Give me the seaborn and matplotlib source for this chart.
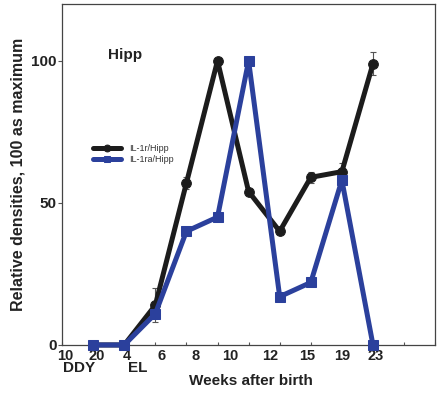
import numpy as np
import pandas as pd
import matplotlib
matplotlib.use('Agg')
import matplotlib.pyplot as plt
import seaborn as sns

# sample positions along the x axis (one per time point)
pos = [1, 2, 3, 4, 5, 6, 7, 8, 9, 10]
il1r = [0, 0, 14, 57, 100, 54, 40, 59, 61, 99]
il1r_err = [0, 0, 6, 2, 0, 0, 0, 2, 3, 4]
il1ra = [0, 0, 11, 40, 45, 100, 17, 22, 58, 0]
il1ra_err = [0, 0, 0, 0, 0, 0, 0, 0, 3, 0]

tick_labels = ['10', '20', '4', '6', '8', '10', '12', '15', '19', '23']
tick_label_pos = [0.1, 1.1, 2.1, 3.2, 4.3, 5.4, 6.7, 7.9, 9.0, 10.1]

sns.set_style('white')
plt.rcParams['font.family'] = ['Liberation Sans', 'DejaVu Sans']

black = '#1c1c1c'
blue = '#2b409c'

fig = plt.figure(figsize=(4.4, 4.03), dpi=100)
ax = fig.add_axes([0.141, 0.144, 0.848, 0.846])

df = pd.DataFrame({'pos': pos, 'r': il1r, 'ra': il1ra})

ax.errorbar(pos, il1r, yerr=il1r_err, fmt='none', ecolor='#555555',
            elinewidth=0.8, capsize=2, capthick=0.8, zorder=2, clip_on=False)
ax.errorbar(pos, il1ra, yerr=il1ra_err, fmt='none', ecolor='#555555',
            elinewidth=0.8, capsize=2, capthick=0.8, zorder=2, clip_on=False)

sns.lineplot(data=df, x='pos', y='r', ax=ax, color=black, linewidth=3.6,
             marker='o', markersize=7, markeredgecolor=black,
             label='IL-1r/Hipp', zorder=3, clip_on=False)
sns.lineplot(data=df, x='pos', y='ra', ax=ax, color=blue, linewidth=3.6,
             marker='s', markersize=6.5, markeredgecolor=blue,
             label='IL-1ra/Hipp', zorder=4, clip_on=False)

ax.set_xlim(0, 12)
ax.set_ylim(0, 120)

# x ticks: small inward marks on each position, labels offset as in original
ax.set_xticks(range(0, 13), minor=True)
ax.tick_params(axis='x', which='minor', direction='in', length=2.5, width=0.8,
               color='#555555', bottom=True)
ax.set_xticks(tick_label_pos)
ax.set_xticklabels(tick_labels, fontsize=10.5, fontweight='bold', color='#222222')
ax.tick_params(axis='x', which='major', length=0, pad=3)

ax.set_yticks([0, 50, 100])
ax.set_yticklabels(['0', '50', '100'], fontsize=11, fontweight='bold', color='#222222')
ax.tick_params(axis='y', direction='out', length=3, width=0.8, color='#555555', pad=1, left=True)

for s in ax.spines.values():
    s.set_color('#444444')
    s.set_linewidth(0.9)

ax.set_xlabel('')
ax.set_ylabel('Relative densities, 100 as maximum', fontsize=11.5,
              fontweight='bold', color='#222222', labelpad=4)
fig.text(0.57, 0.055, 'Weeks after birth', ha='center', va='center',
         fontsize=11, fontweight='bold', color='#222222')
fig.text(0.18, 0.087, 'DDY', ha='center', va='center', fontsize=11,
         fontweight='bold', color='#222222')
fig.text(0.313, 0.087, 'EL', ha='center', va='center', fontsize=11,
         fontweight='bold', color='#222222')

ax.text(0.123, 0.85, 'Hipp', transform=ax.transAxes, fontsize=11,
        fontweight='bold', color='#222222', va='center')

leg = ax.legend(loc='center left', bbox_to_anchor=(0.06, 0.56), frameon=False,
                fontsize=6.5, handlelength=3.2, handletextpad=0.8,
                labelspacing=0.3, markerscale=0.7)
for t in leg.get_texts():
    t.set_color('#333333')

fig.savefig('out.png', dpi=100)
